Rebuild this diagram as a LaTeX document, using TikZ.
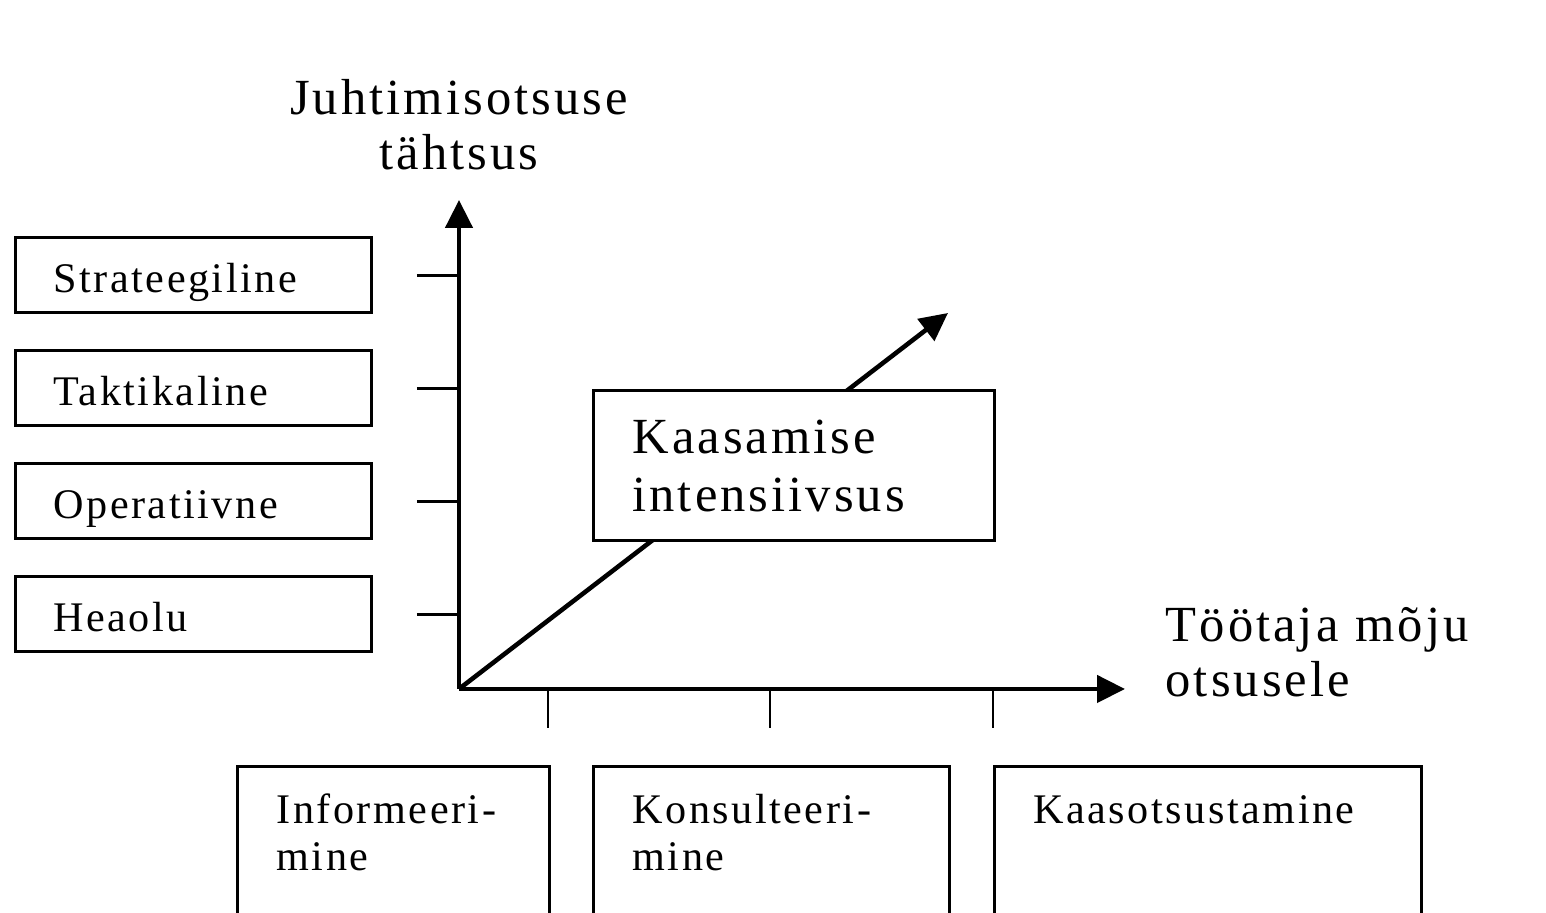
\documentclass[tikz,border=0pt]{standalone}
\usepackage{fontspec}
\setmainfont{Liberation Serif}[LetterSpace=6]
\usetikzlibrary{arrows.meta,positioning}

\begin{document}
\begin{tikzpicture}[
  lvl/.style={draw,line width=0.85pt,anchor=west,text width=2.80cm,inner xsep=0.38cm,inner ysep=0.2cm,
    text height=0.35cm,text depth=0pt,align=left,font=\fontsize{12pt}{13.4pt}\selectfont},
  kind/.style={draw,line width=0.85pt,anchor=north west,inner xsep=0.39cm,inner ysep=0.29cm,
    text height=0.28cm,text depth=1.4cm,align=left,font=\fontsize{12pt}{13.4pt}\selectfont},
  axis/.style={line width=1.3pt,-{Triangle[length=0.28cm,width=0.27cm]}},
  tick/.style={line width=0.7pt},
  big/.style={inner sep=0pt,font=\fontsize{14.4pt}{15.6pt}\selectfont}]
  \useasboundingbox (0,0) rectangle (15.46,9.13);
  \coordinate (o) at (4.59,2.24);
  \coordinate (ytip) at (4.59,7.13);
  \coordinate (xtip) at (11.25,2.24);
  \coordinate (dtip) at (9.48,6.00);
  % axes
  \draw[axis] (o) -- (ytip);
  \draw[axis] (o) -- (xtip);
  \draw[axis] (o) -- (dtip);
  \node[big,anchor=base,text width=4.2cm,align=center] (ylab) at (4.59,7.98) {Juhtimisotsuse\\tähtsus};
  \node[big,anchor=base west,text width=3.8cm,align=left] (xlab) at (11.65,2.71) {Töötaja mõju\\otsusele};
  \node[draw,fill=white,line width=0.85pt,anchor=north west,text width=3.23cm,inner xsep=0.39cm,inner ysep=0.29cm,
    text height=0.34cm,text depth=0.58cm,align=left,font=\fontsize{14.4pt}{16.5pt}\selectfont] (dlab) at (5.92,5.24)
    {Kaasamise\\intensiivsus};
  % levels
  \node[lvl] (strat) at (0.14,6.375) {Strateegiline};
  \node[lvl] (takt) at (0.14,5.245) {Taktikaline};
  \node[lvl] (oper) at (0.14,4.115) {Operatiivne};
  \node[lvl] (hea) at (0.14,2.985) {Heaolu};
  \foreach \n in {strat,takt,oper,hea} \draw[tick] ([xshift=0.44cm]\n.east) -- (\n.east -| o);
  % kinds
  \node[kind,text width=2.34cm] (info) at (2.36,1.48) {Informeeri-\\mine};
  \node[kind,text width=2.78cm] (kons) at (5.92,1.48) {Konsulteeri-\\mine};
  \node[kind,text width=3.49cm] (kaas) at (9.93,1.48) {Kaasotsustamine};
  \foreach \x in {5.48,7.70,9.93} \draw[tick] (\x,2.24) -- (\x,1.85);
\end{tikzpicture}
\end{document}
